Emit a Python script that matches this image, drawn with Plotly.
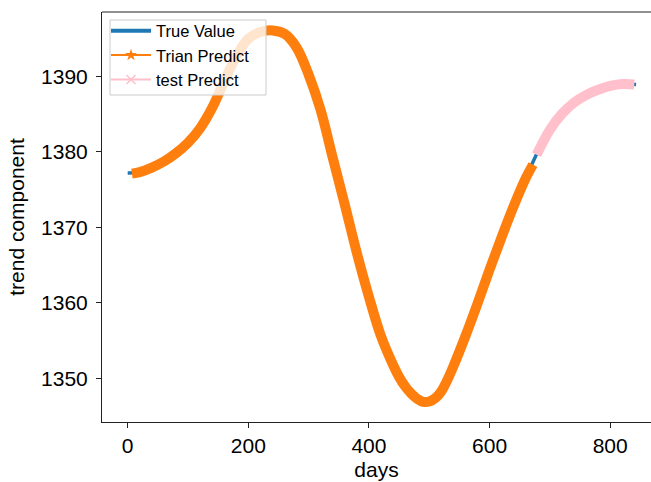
import plotly.graph_objects as go

# ---- data ----
true_days = [0, 20, 40, 60, 80, 100, 120, 140, 160, 180, 200, 220, 240, 260, 280, 300,
             320, 340, 360, 380, 400, 420, 440, 450, 460, 470, 480, 490, 500, 510, 520, 530,
             540, 560, 580, 600, 620, 640, 660, 680, 700, 720, 740, 760, 780, 800, 820, 843]
true_vals = [1377.2, 1377.3, 1377.9, 1378.7, 1379.8, 1381.2, 1383.1, 1385.8, 1389.3, 1392.6,
             1394.95, 1395.85, 1396.05, 1395.6, 1393.8, 1390.2, 1385.5, 1379.2, 1373.0, 1366.6,
             1360.8, 1355.6, 1351.8, 1350.2, 1348.95, 1348.0, 1347.3, 1346.9, 1346.95, 1347.4,
             1348.3, 1349.8, 1351.6, 1355.6, 1359.9, 1364.4, 1368.7, 1372.8, 1376.5, 1380.0,
             1382.9, 1385.0, 1386.5, 1387.5, 1388.2, 1388.7, 1388.95, 1388.9]

train_days = [7, 20, 40, 60, 80, 100, 120, 140, 160, 180, 200, 220, 240, 260, 280, 300,
              320, 340, 360, 380, 400, 420, 440, 450, 460, 470, 480, 490, 500, 510, 520, 530,
              540, 560, 580, 600, 620, 640, 660, 672]
train_vals = [1377.1, 1377.3, 1377.9, 1378.7, 1379.8, 1381.2, 1383.1, 1385.8, 1389.3, 1392.6,
              1394.95, 1395.85, 1396.05, 1395.6, 1393.8, 1390.2, 1385.5, 1379.2, 1373.0, 1366.6,
              1360.8, 1355.6, 1351.8, 1350.2, 1348.95, 1348.0, 1347.3, 1346.9, 1346.95, 1347.4,
              1348.3, 1349.8, 1351.6, 1355.6, 1359.9, 1364.4, 1368.7, 1372.8, 1376.5, 1378.3]

test_days = [678, 700, 720, 740, 760, 780, 800, 820, 840]
test_vals = [1379.6, 1382.9, 1385.0, 1386.5, 1387.5, 1388.2, 1388.7, 1388.95, 1388.9]

x_ticks = [0, 200, 400, 600, 800]
y_ticks = [1350, 1360, 1370, 1380, 1390]

BLUE = "#1f77b4"
ORANGE = "#ff7f0e"
PINK = "#ffc0cb"
FONT = "Arial, Liberation Sans, sans-serif"

W, H = 651, 482
ML, MR, MT, MB = 102, 0, 12, 60
PW, PH = W - ML - MR, H - MT - MB


def px_x(p):
    return (p - ML) / PW


def px_y(p):
    return 1 - (p - MT) / PH


fig = go.Figure()

# plotted bands (dense markers in the original appear as thick bands)
fig.add_trace(go.Scatter(x=true_days, y=true_vals, mode="lines", line=dict(color=BLUE, width=3.5, shape="spline"),
                         showlegend=False, hoverinfo="skip"))
fig.add_trace(go.Scatter(x=train_days, y=train_vals, mode="lines", line=dict(color=ORANGE, width=10, shape="spline"),
                         showlegend=False, hoverinfo="skip"))
fig.add_trace(go.Scatter(x=test_days, y=test_vals, mode="lines", line=dict(color=PINK, width=10, shape="spline"),
                         showlegend=False, hoverinfo="skip"))

# legend entries
fig.add_trace(go.Scatter(x=[None], y=[None], mode="lines", name="True Value",
                         line=dict(color=BLUE, width=4)))
fig.add_trace(go.Scatter(x=[None], y=[None], mode="lines+markers", name="Trian Predict",
                         line=dict(color=ORANGE, width=2), marker=dict(symbol="star", size=9, color=ORANGE)))
fig.add_trace(go.Scatter(x=[None], y=[None], mode="lines+markers", name="test Predict",
                         line=dict(color=PINK, width=2), marker=dict(symbol="x-thin", size=9, color=PINK,
                                                                     line=dict(color=PINK, width=1.5))))

fig.update_layout(
    width=W, height=H,
    margin=dict(l=ML, r=MR, t=MT, b=MB),
    paper_bgcolor="white", plot_bgcolor="white",
    font=dict(family=FONT, color="black", size=21),
    showlegend=True,
    legend=dict(x=px_x(106), y=px_y(13.4), xanchor="left", yanchor="top",
                bgcolor="rgba(0,0,0,0)", borderwidth=0, itemwidth=40,
                font=dict(size=16.5, family=FONT), tracegroupgap=0),
    xaxis=dict(range=[-42.6, 867.7], tickvals=x_ticks, ticktext=[str(v) for v in x_ticks],
               showgrid=False, zeroline=False, showline=True, linecolor="#222222", linewidth=1.1,
               ticks="outside", ticklen=5, tickwidth=1.1, tickcolor="#222222",
               tickfont=dict(size=21), title=dict(text="days", font=dict(size=21), standoff=6)),
    yaxis=dict(range=[1344.24, 1398.49], tickvals=y_ticks, ticktext=[str(v) for v in y_ticks],
               showgrid=False, zeroline=False, showline=True, linecolor="#222222", linewidth=1.1,
               ticks="outside", ticklen=5, tickwidth=1.1, tickcolor="#222222", ticklabelstandoff=4,
               tickfont=dict(size=21), title=dict(text="trend component", font=dict(size=21), standoff=10)),
    shapes=[
        dict(type="line", xref="paper", yref="paper", x0=0, x1=1, y0=1, y1=1,
             line=dict(color="#222222", width=1.1)),
        dict(type="rect", xref="paper", yref="paper", layer="above",
             x0=px_x(110), x1=px_x(266), y0=px_y(95), y1=px_y(20),
             fillcolor="rgba(255,255,255,0.8)", line=dict(color="#cccccc", width=1)),
    ],
)

fig.write_html("out.html")
